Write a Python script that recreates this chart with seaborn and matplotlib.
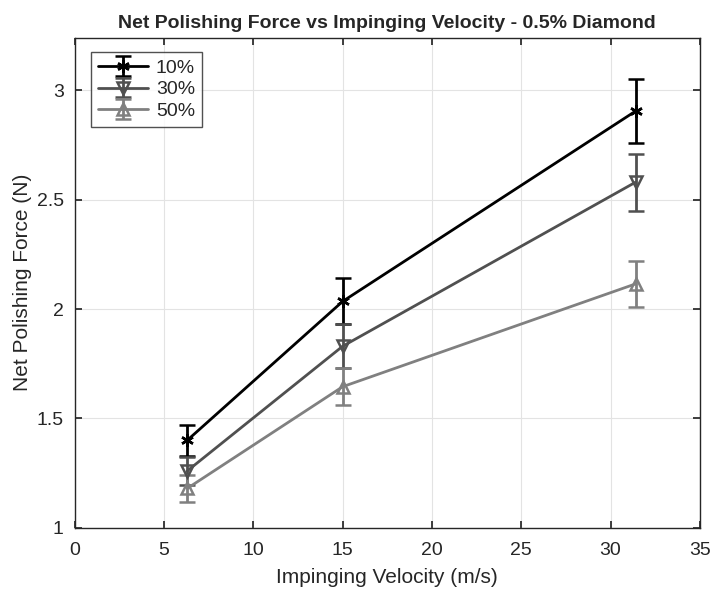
import matplotlib
matplotlib.use("Agg")
import matplotlib.pyplot as plt
import numpy as np
import seaborn as sns

# velocities (m/s) and net polishing force (N) with error half-widths
velocity = [6.3, 15.0, 31.4]
labels = ["10%", "30%", "50%"]
force_10 = [1.40, 2.035, 2.905]
force_30 = [1.26, 1.83, 2.58]
force_50 = [1.18, 1.645, 2.115]
err_10 = [0.07, 0.105, 0.145]
err_30 = [0.065, 0.10, 0.13]
err_50 = [0.06, 0.085, 0.105]

colors = ["#000000", "#505050", "#808080"]
markers = [(6, 2, 0), "v", "^"]

sns.set_theme(style="whitegrid")
plt.rcParams["font.family"] = ["Liberation Sans", "DejaVu Sans"]

fig = plt.figure(figsize=(7.12, 5.91), dpi=100)
ax = fig.add_axes([0.105, 0.107, 0.878, 0.829])

series = [(force_10, err_10), (force_30, err_30), (force_50, err_50)]
for (y, e), lab, c, m in zip(series, labels, colors, markers):
    ax.errorbar(velocity, y, yerr=e, color=c, marker=m, markersize=9,
                markerfacecolor="none" if m != markers[0] else c,
                markeredgewidth=1.8, linewidth=2, elinewidth=2,
                capsize=6, capthick=2, label=lab)

ax.set_xlim(0, 35)
ax.set_ylim(1, 3.24)
ax.set_xticks(np.arange(0, 36, 5))
ax.set_yticks([1, 1.5, 2, 2.5, 3])
ax.set_yticklabels(["1", "1.5", "2", "2.5", "3"])
ax.grid(True, color="#e3e3e3", linewidth=0.8)
for s in ax.spines.values():
    s.set_color("#262626")
    s.set_linewidth(1.0)
ax.tick_params(direction="in", length=5, labelsize=14, colors="#262626",
               bottom=True, left=True, top=True, right=True,
               labeltop=False, labelright=False)
ax.tick_params(axis="x", pad=10)
ax.tick_params(axis="y", pad=8)

ax.set_xlabel("Impinging Velocity (m/s)", fontsize=15, color="#262626", labelpad=7)
ax.set_ylabel("Net Polishing Force (N)", fontsize=15, color="#262626", labelpad=3)
ax.set_title("Net Polishing Force vs Impinging Velocity - 0.5% Diamond",
             fontsize=14, fontweight="bold", pad=7)

leg = ax.legend(loc="upper left", fontsize=14, frameon=True, fancybox=False,
                edgecolor="#262626", handlelength=2.6, borderpad=0.35,
                labelspacing=0.2, handletextpad=0.4,
                bbox_to_anchor=(0.01, 0.99))
leg.get_frame().set_linewidth(1.0)

fig.savefig("out.png", dpi=100)
